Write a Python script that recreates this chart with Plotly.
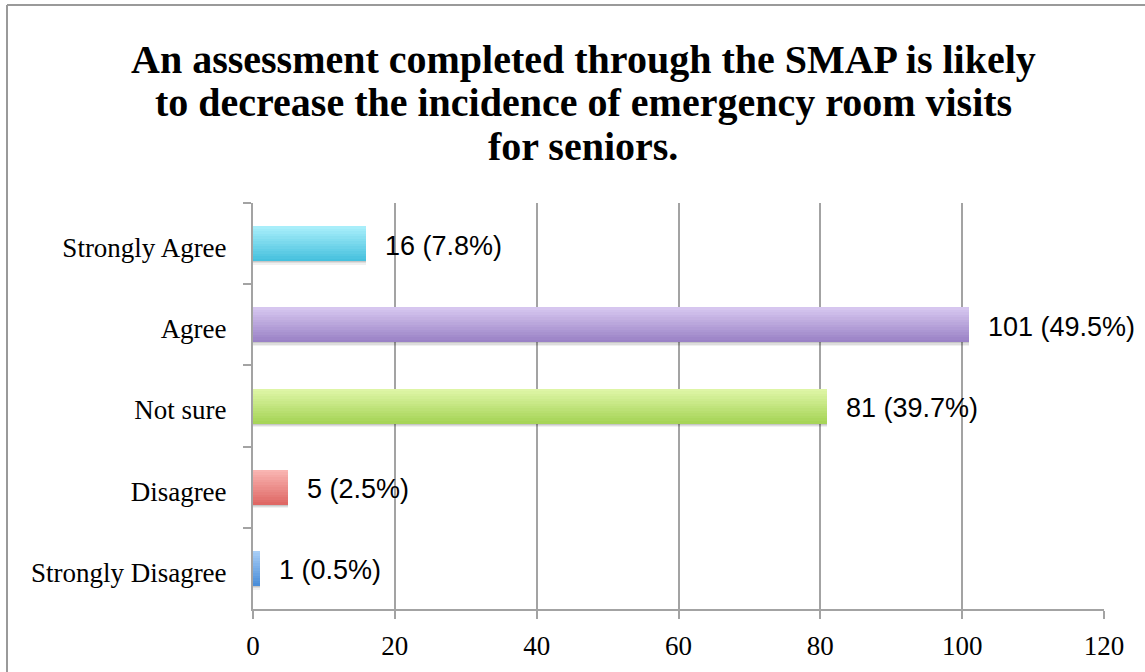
import plotly.graph_objects as go

# Survey responses (count and share of 204 respondents)
categories = ["Strongly Agree", "Agree", "Not sure", "Disagree", "Strongly Disagree"]
counts = [16, 101, 81, 5, 1]
percents = [7.8, 49.5, 39.7, 2.5, 0.5]
x_ticks = [0, 20, 40, 60, 80, 100, 120]
title_lines = [
    "An assessment completed through the SMAP is likely",
    "to decrease the incidence of emergency room visits",
    "for seniors.",
]

# top / bottom colours of each bar's vertical gradient
top_colors = ["#A8EEFA", "#D6C6EF", "#DEF5A6", "#F9B5B2", "#A8CEF6"]
bottom_colors = ["#46C1DE", "#9A82C6", "#A7D558", "#DF6865", "#4B8ED9"]

BAR_W = 0.43
SLICES = 14

# plot-area geometry in pixels (used to place title and frame in paper units)
PLOT_L, PLOT_R, PLOT_T, PLOT_B = 253, 1104, 203, 609
PW, PH = PLOT_R - PLOT_L, PLOT_B - PLOT_T


def px_x(px):
    return (px - PLOT_L) / PW


def px_y(py):
    return (PLOT_B - py) / PH


def hex_to_rgb(h):
    h = h.lstrip("#")
    return tuple(int(h[i:i + 2], 16) for i in (0, 2, 4))


def mix(c1, c2, t):
    a, b = hex_to_rgb(c1), hex_to_rgb(c2)
    return "rgb(%d,%d,%d)" % tuple(round(a[k] + (b[k] - a[k]) * t) for k in range(3))


fig = go.Figure()

# soft drop shadow under each bar
for k, alpha in enumerate([0.06, 0.08, 0.1]):
    fig.add_trace(go.Bar(
        y=categories, x=counts, orientation="h",
        width=BAR_W, offset=-BAR_W / 2 + 0.015 + 0.015 * (2 - k),
        marker=dict(color=f"rgba(0,0,0,{alpha})", line=dict(width=0)),
        hoverinfo="skip", showlegend=False,
    ))

# each bar is built from thin horizontal slices, light at the top and darker at the bottom
step = BAR_W / SLICES
for i in range(SLICES):
    t = i / (SLICES - 1)
    fig.add_trace(go.Bar(
        y=categories, x=counts, orientation="h",
        width=step * 1.05, offset=-BAR_W / 2 + i * step,
        marker=dict(color=[mix(tc, bc, t) for tc, bc in zip(top_colors, bottom_colors)],
                    line=dict(width=0)),
        hoverinfo="skip", showlegend=False,
    ))

# value labels to the right of the bars
for cat, n, p in zip(categories, counts, percents):
    fig.add_annotation(
        x=n, y=cat, xref="x", yref="y",
        text=f"{n} ({p}%)", showarrow=False,
        xanchor="left", yanchor="middle", xshift=17, yshift=-2,
        font=dict(family="Liberation Sans, Arial, sans-serif", size=27, color="#000000"),
    )

# chart title, one annotation per line
serif = "Liberation Serif, Times New Roman, serif"
for line, cy in zip(title_lines, [59, 102, 147]):
    fig.add_annotation(
        x=px_x(583), y=px_y(cy), xref="paper", yref="paper",
        xanchor="center", yanchor="middle",
        text=f"<b>{line}</b>", showarrow=False,
        font=dict(family=serif, size=40, color="#000000"),
    )

# outer chart frame
frame = dict(color="#9A9A9A", width=2)
fig.add_shape(type="line", xref="paper", yref="paper",
              x0=px_x(7), x1=px_x(1160), y0=px_y(5), y1=px_y(5), line=frame)
fig.add_shape(type="line", xref="paper", yref="paper",
              x0=px_x(7), x1=px_x(7), y0=px_y(5), y1=px_y(690), line=frame)

grid_color = "#A3A3A3"
fig.update_layout(
    width=1145, height=672,
    margin=dict(l=PLOT_L, r=1145 - PLOT_R, t=PLOT_T, b=672 - PLOT_B),
    paper_bgcolor="white", plot_bgcolor="white",
    barmode="overlay", bargap=0,
    showlegend=False,
    xaxis=dict(
        range=[0, 120], tickvals=x_ticks, ticktext=[str(v) for v in x_ticks],
        showgrid=True, gridcolor=grid_color, gridwidth=2,
        showline=True, linecolor=grid_color, linewidth=2,
        ticks="outside", ticklen=8, tickcolor=grid_color, tickwidth=2,
        ticklabelstandoff=4,
        zeroline=False, fixedrange=True,
        tickfont=dict(family=serif, size=27, color="#000000"),
    ),
    yaxis=dict(
        categoryorder="array", categoryarray=categories, autorange="reversed",
        showgrid=False,
        showline=True, linecolor=grid_color, linewidth=2,
        ticks="outside", ticklen=8, tickcolor=grid_color, tickwidth=2,
        tickson="boundaries", ticklabelstandoff=19, ticklabelshift=-4,
        zeroline=False, fixedrange=True,
        tickfont=dict(family=serif, size=27, color="#000000"),
    ),
)

fig.write_html("out.html")
